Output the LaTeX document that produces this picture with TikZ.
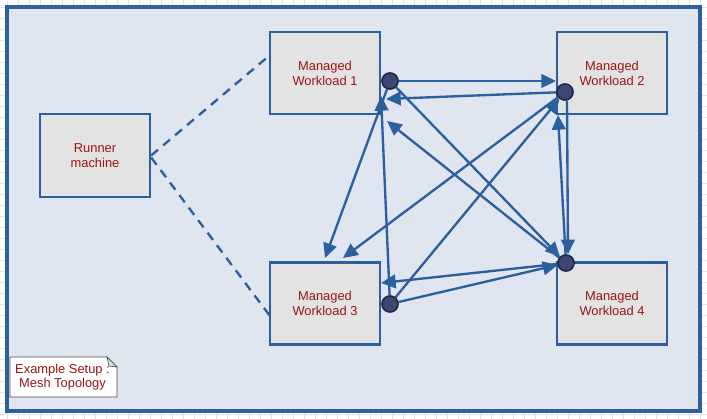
\documentclass[tikz,border=0pt]{standalone}
\usepackage{fontspec}
\setmainfont{Liberation Sans}
\usetikzlibrary{arrows.meta}

\definecolor{lineblue}{HTML}{2C5F9E}
\definecolor{panelbg}{HTML}{DFE6F0}
\definecolor{boxbg}{HTML}{E3E3E3}
\definecolor{txtred}{HTML}{9A1414}
\definecolor{dotfill}{HTML}{3D4872}
\definecolor{dotline}{HTML}{1E2845}
\definecolor{gridc}{HTML}{E2E2F2}

\tikzset{
  wbox/.style={draw=lineblue, fill=boxbg, line width=2pt, minimum width=33mm, minimum height=24.6mm,
               align=center, text=txtred, font=\fontsize{11}{12.8}\selectfont},
  mdot/.style={circle, draw=dotline, fill=dotfill, line width=1.2pt, minimum size=4.8mm, inner sep=0pt},
  flow/.style={draw=lineblue, line width=2pt, -{Triangle[length=4.4mm,width=4.1mm]}},
  link/.style={draw=lineblue, line width=2pt, dash pattern=on 2.7mm off 2mm}
}

\begin{document}
\begin{tikzpicture}[x=0.3mm, y=-0.3mm]

  \useasboundingbox (0,0) rectangle (707,419);

	%grid
  \fill[white] (0,0) rectangle (707,419);
    \foreach \i in {0,...,63}{
         \draw[gridc, line width=0.7pt] (7+11*\i, 0) -- (7+11*\i, 419);
    }
    \foreach \i in {0,...,37}{
         \draw[gridc, line width=0.7pt] (0, 7+11*\i) -- (707, 7+11*\i);
    }

	%panel
  \draw[lineblue, fill=panelbg, line width=2.8pt] (7,7) rectangle (700,411);

	%machines
  \node[wbox, minimum height=24.9mm] (runner) at (95,155.5) {Runner\\machine};
    \foreach \x/\y/\num/\name in { 325/73/1/mw1, 612/73/2/mw2, 325/303.5/3/mw3, 612/303.5/4/mw4}{
         \node[wbox] (\name) at (\x,\y) {Managed\\Workload \num};
    }

	%runner links
  \coordinate (r1) at (270,55);
  \coordinate (r3) at (270,316);
  \draw[link] (runner.east) -- (r1);
  \draw[link] ([yshift=-0.6mm]runner.east) -- (r3);

	%ports
    \foreach \x/\y/\name in { 390/81/d1, 565/92/d2, 390/304/d3, 566/263/d4}{
         \node[mdot] (\name) at (\x,\y) {};
    }

	%arrow tips on the boxes
    \foreach \x/\y/\name in { 556/81/t2a, 386/99/t1b, 343/258/t3b, 325/258/t3a,
                              381/96/t1c, 387/121/t1d, 558/115/t2d, 381/283/t3d}{
         \coordinate (\name) at (\x,\y);
    }

	%mesh
    \foreach \a/\b in { d1/t2a, d1/d4, d1/t3a, d2/t1b, d2/t3b, d3/t1c, d3/d2, d3/d4,
                        d4/t1d, d4/t2d, d4/t3d}{
         \draw[flow] (\a) -- (\b);
    }
  \draw[flow] ([xshift=0.6mm]d2.south) -- ([xshift=0.6mm]d4.north);

    \foreach \name in {d1,d2,d3,d4}{
         \draw[dotline, fill=dotfill, line width=1.2pt] (\name) circle[radius=2.4mm];
    }

	%note
  \draw[fill=white, draw=black!70, line width=0.8pt] (10,357) -- (107,357) -- (117,367) -- (117,397) -- (10,397) -- cycle;
  \draw[fill=black!12, draw=black!70, line width=0.6pt] (107,357) -- (109,366) -- (117,367) -- cycle;
  \node[align=center, text=txtred, font=\fontsize{11}{12}\selectfont] (note) at (62.5,377.5) {Example Setup :\\Mesh Topology};

\end{tikzpicture}
\end{document}
